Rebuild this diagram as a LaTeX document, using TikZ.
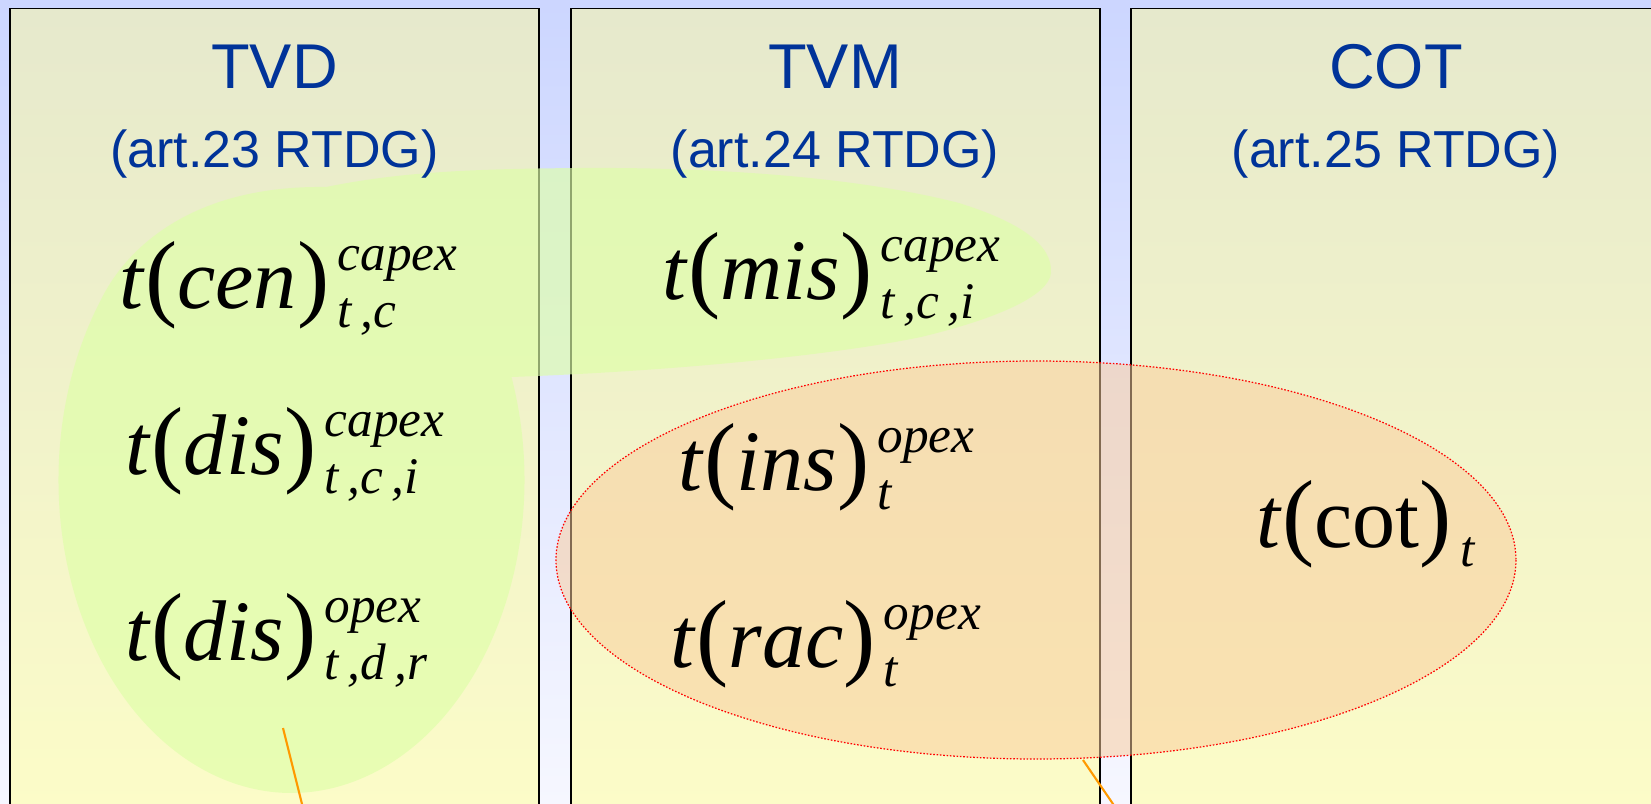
\documentclass[tikz,border=0pt]{standalone}
\usepackage{fontspec}
\setmainfont{Liberation Serif}
\newfontfamily\headfont{Liberation Sans}
\definecolor{bgtop}{RGB}{204,214,255}
\definecolor{bgbot}{RGB}{246,247,255}
\definecolor{pantop}{RGB}{230,233,204}
\definecolor{panbot}{RGB}{252,252,200}
\definecolor{headblue}{RGB}{0,51,153}
\definecolor{blobgreen}{RGB}{222,255,168}
\definecolor{ovalfill}{RGB}{250,204,156}
\definecolor{linkorange}{RGB}{255,153,0}
\newdimen\scrwd
\newcommand{\scrfont}{\fontsize{14.6}{16}\selectfont\itshape}
\newcommand{\tpar}[1]{{\fontsize{27.5}{30}\selectfont(}#1{\fontsize{27.5}{30}\selectfont)}}
\newcommand{\tterm}[3]{%
  \fontsize{24.5}{30}\selectfont\textit{t}\tpar{#1}%
  \setbox0=\hbox{\scrfont #2}%
  \setbox2=\hbox{\scrfont #3}%
  \scrwd=\wd0 \ifdim\wd2>\scrwd \scrwd=\wd2 \fi
  \kern2.4pt\rlap{\raise10.8pt\box0}\rlap{\lower5.5pt\box2}\kern\scrwd}

\begin{document}
\begin{tikzpicture}[x=0.1mm, y=-0.1mm,
  panel/.style={draw=black, line width=0.5pt, top color=pantop, bottom color=panbot},
  head/.style={font=\headfont\fontsize{18}{20}\selectfont, text=headblue, anchor=base, inner sep=0pt},
  art/.style={font=\headfont\fontsize{14.8}{17}\selectfont, text=headblue, anchor=base, inner sep=0pt},
  term/.style={anchor=base west, inner sep=0pt},
  blob/.style={fill=blobgreen, fill opacity=0.65},
  oval/.style={draw=red, line width=0.35pt, dash pattern=on 0.45pt off 0.5pt, fill=ovalfill, fill opacity=0.52},
  link/.style={draw=linkorange, line width=0.6pt}]
\useasboundingbox (0,0) rectangle (1651,804);
\clip (0,0) rectangle (1651,804);
\fill[top color=bgtop, bottom color=bgbot] (0,0) rectangle (1651,804);
\path[panel] (10,8.5) rectangle (539,812);
\path[panel] (571,8.5) rectangle (1100,812);
\path[panel] (1131,8.5) rectangle (1660,812);

\fill[blob] (511.5,377) arc[start angle=-19.2, end angle=215, x radius=233, y radius=313]
  .. controls (125,250) and (190,185) .. (326,187)
  .. controls (400,172) and (470,169) .. (577,168)
  .. controls (700,167) and (850,175) .. (959,203)
  .. controls (1020,222) and (1053,245) .. (1051,273)
  .. controls (1049,295) and (1000,318) .. (921,337)
  .. controls (850,352) and (700,370) .. (511.5,377) -- cycle;
\path[oval] (1036,560) ellipse [x radius=480, y radius=199];

\node[head] (tvd) at (274.5,88) {TVD};
\node[art] (tvdart) at (274.5,167) {(art.23 RTDG)};
\node[head] (tvm) at (835,88) {TVM};
\node[art] (tvmart) at (835,167) {(art.24 RTDG)};
\node[head] (cot) at (1396,88) {COT};
\node[art] (cotart) at (1396,167) {(art.25 RTDG)};

\node[term] (cen) at (119,308) {\tterm{\textit{cen}}{capex}{t\,,c}};
\node[term] (discap) at (125,474) {\tterm{\textit{dis}}{capex}{t\,,c\,,i}};
\node[term] (disop) at (125,660) {\tterm{\textit{dis}}{opex}{t\,,d\,,r}};
\node[term] (mis) at (662,299) {\tterm{\textit{mis}}{capex}{t\,,c\,,i}};
\node[term] (ins) at (678,490) {\tterm{\textit{ins}}{opex}{t}};
\node[term] (rac) at (670,667) {\tterm{\textit{rac}}{opex}{t}};
\node[term] (cott) at (1256,547) {\tterm{cot}{}{t}};

\coordinate (tvdlink) at (283,728);
\coordinate (tvdout) at (306,820);
\coordinate (ovallink) at (1083,760);
\coordinate (ovalout) at (1124,820);
\draw[link] (tvdlink) -- (tvdout);
\draw[link] (ovallink) -- (ovalout);
\end{tikzpicture}
\end{document}
